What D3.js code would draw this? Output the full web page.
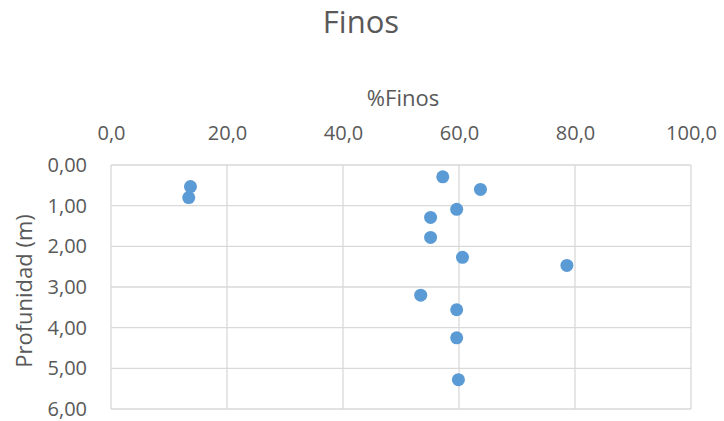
<!DOCTYPE html>
<html>
<head>
<meta charset="utf-8">
<script src="https://cdn.jsdelivr.net/npm/d3@7"></script>
<style>
  body { margin: 0; background: #fff; }
  text { font-family: "Open Sans", sans-serif; fill: #595959; }
</style>
</head>
<body>
<div id="chart"></div>
<script>
const finos = [57.2, 63.7, 59.6, 55.1, 55.1, 60.6, 78.6, 53.4, 59.6, 59.6, 59.9, 13.7, 13.4];
const profundidad = [0.29, 0.60, 1.09, 1.29, 1.78, 2.27, 2.47, 3.20, 3.56, 4.25, 5.28, 0.53, 0.80];
const xTicks = [0, 20, 40, 60, 80, 100];
const yTicks = [0, 1, 2, 3, 4, 5, 6];

const width = 724;
const height = 421;
const margin = { top: 165, right: 33, bottom: 12, left: 111 };

const svg = d3.select('#chart')
    .append('svg')
    .attr('width', width)
    .attr('height', height);

const xScale = d3.scaleLinear()
    .domain([0, 100])
    .range([margin.left, width - margin.right]);

const yScale = d3.scaleLinear()
    .domain([0, 6])
    .range([margin.top, height - margin.bottom]);

const fmt = d3.formatLocale({ decimal: ',', thousands: '.', grouping: [3], currency: ['', ''] });

// gridlines
svg.append('g')
    .selectAll('line')
    .data(xTicks)
    .enter()
    .append('line')
    .attr('x1', d => xScale(d))
    .attr('x2', d => xScale(d))
    .attr('y1', yScale(0))
    .attr('y2', yScale(6))
    .attr('stroke', '#d9d9d9')
    .attr('stroke-width', 1.3);

svg.append('g')
    .selectAll('line')
    .data(yTicks)
    .enter()
    .append('line')
    .attr('x1', xScale(0))
    .attr('x2', xScale(100))
    .attr('y1', d => yScale(d))
    .attr('y2', d => yScale(d))
    .attr('stroke', '#d9d9d9')
    .attr('stroke-width', 1.3);

// axes (top x, left y)
const xAxis = svg.append('g')
    .attr('transform', `translate(0, ${margin.top - 25})`)
    .call(d3.axisTop(xScale).tickValues(xTicks).tickFormat(fmt.format('.1f')).tickSize(0));
xAxis.select('.domain').remove();
xAxis.selectAll('text').attr('font-size', 20).attr('font-family', null).attr('fill', '#595959').attr('dy', 0).attr('y', 0);

const yAxis = svg.append('g')
    .attr('transform', `translate(${margin.left - 24}, 0)`)
    .call(d3.axisLeft(yScale).tickValues(yTicks).tickFormat(fmt.format('.2f')).tickSize(0));
yAxis.select('.domain').remove();
yAxis.selectAll('text').attr('font-size', 20).attr('font-family', null).attr('fill', '#595959').attr('x', 0);

// points
svg.append('g')
    .selectAll('circle')
    .data(finos)
    .enter()
    .append('circle')
    .attr('cx', d => xScale(d))
    .attr('cy', (d, i) => yScale(profundidad[i]))
    .attr('r', 6.5)
    .attr('fill', '#5b9bd5');

// titles
svg.append('text')
    .attr('x', 361)
    .attr('y', 33)
    .attr('text-anchor', 'middle')
    .attr('font-size', 31)
    .text('Finos');

svg.append('text')
    .attr('x', (xScale(0) + xScale(100)) / 2 + 2)
    .attr('y', 106)
    .attr('text-anchor', 'middle')
    .attr('font-size', 22)
    .text('%Finos');

svg.append('text')
    .attr('transform', `translate(32, 291) rotate(-90)`)
    .attr('text-anchor', 'middle')
    .attr('font-size', 22)
    .text('Profunidad (m)');
</script>
</body>
</html>
